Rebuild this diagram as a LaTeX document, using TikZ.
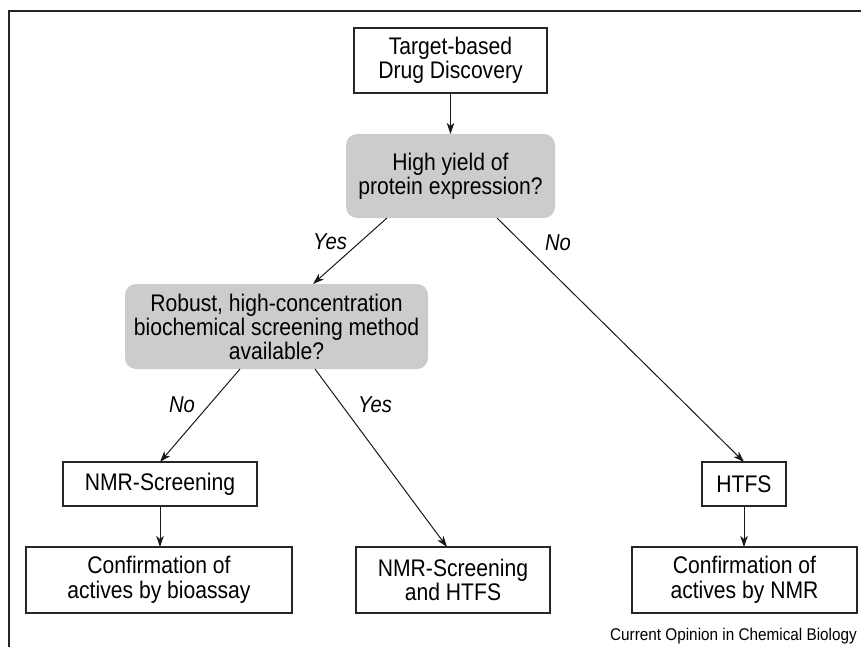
\documentclass[tikz,border=0pt]{standalone}
\usepackage{fontspec}
\setmainfont[FakeStretch=0.88]{Liberation Sans}
\newfontfamily\srcfont[FakeStretch=0.9]{Liberation Sans}
\usetikzlibrary{arrows.meta,calc}
\tikzset{
  box/.style={draw=black!85, line width=1.1pt, fill=white, inner sep=0pt, outer sep=0pt, align=center,
    font=\fontsize{24}{24.5}\selectfont},
  qbox/.style={fill=black!20, rounded corners=11pt, inner sep=0pt, outer sep=0pt, align=center,
    font=\fontsize{24}{24}\selectfont},
  arr/.style={line width=1pt, draw=black!90, -{Stealth[length=11pt,width=7.5pt,inset=3pt]}},
  lbl/.style={font=\fontsize{23}{24}\selectfont\itshape, inner sep=0pt},
  frameline/.style={line width=1.5pt, draw=black!85}
}
\begin{document}
\begin{tikzpicture}[x=1pt,y=-1pt]
\useasboundingbox (0,0) rectangle (861,647);
\draw[frameline] (9,647) -- (9,11) -- (861,11);

\node[box, minimum width=193pt, minimum height=65pt] (b1) at (450.5,60.5) {Target-based\\Drug Discovery};
\node[qbox, minimum width=209pt, minimum height=84pt] (q1) at (450.5,176) {High yield of\\protein expression?};
\node[qbox, minimum width=303pt, minimum height=85pt] (q2) at (276.5,326.5) {Robust, high-concentration\\biochemical screening method\\available?};
\node[box, minimum width=194pt, minimum height=44pt] (nmr) at (160,484) {NMR-Screening};
\node[box, minimum width=84pt, minimum height=44pt] (htfs) at (744,484) {HTFS};
\node[box, minimum width=266pt, minimum height=66pt] (cb) at (159,580) {Confirmation of\\actives by bioassay};
\node[box, minimum width=194pt, minimum height=66pt] (both) at (453,580) {NMR-Screening\\and HTFS};
\node[box, minimum width=225pt, minimum height=66pt] (cn) at (744.5,580) {Confirmation of\\actives by NMR};

\draw[arr] (b1.south) -- (q1.north);
\draw[arr] ([xshift=-63.5pt]q1.south) -- ([xshift=36.5pt]q2.north);
\draw[arr] ([xshift=46.5pt]q1.south) -- (htfs.north);
\draw[arr] ([xshift=-36.5pt]q2.south) -- (nmr.north);
\draw[arr] ([xshift=38.5pt]q2.south) -- ([xshift=-6pt]both.north);
\draw[arr] (nmr.south) -- (nmr.south |- cb.north);
\draw[arr] (htfs.south) -- (htfs.south |- cn.north);

\node[lbl] (y1) at (330,242) {Yes};
\node[lbl] (n1) at (558,243) {No};
\node[lbl] (n2) at (182,405) {No};
\node[lbl] (y2) at (375,405) {Yes};

\node[anchor=east, inner sep=0pt, font=\srcfont\fontsize{17}{18}\selectfont] (src) at (857,636) {Current Opinion in Chemical Biology};
\end{tikzpicture}
\end{document}
